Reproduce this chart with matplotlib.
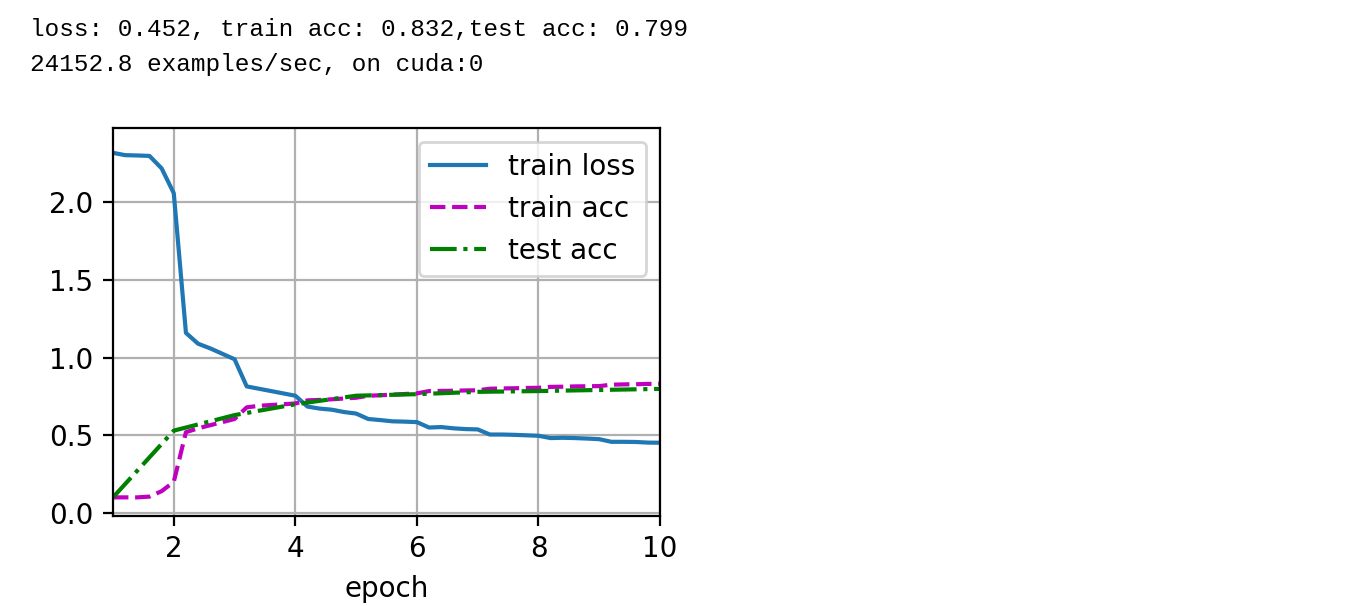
import numpy as np
import matplotlib
matplotlib.use('Agg')
import matplotlib.pyplot as plt

# x positions: 5 points per epoch (every num_batches // 5 batches)
epoch_x = [1.0, 1.2, 1.4, 1.6, 1.8, 2.0, 2.2, 2.4, 2.6, 2.8,
           3.0, 3.2, 3.4, 3.6, 3.8, 4.0, 4.2, 4.4, 4.6, 4.8,
           5.0, 5.2, 5.4, 5.6, 5.8, 6.0, 6.2, 6.4, 6.6, 6.8,
           7.0, 7.2, 7.4, 7.6, 7.8, 8.0, 8.2, 8.4, 8.6, 8.8,
           9.0, 9.2, 9.4, 9.6, 9.8, 10.0]

train_loss = [2.32, 2.305, 2.303, 2.30, 2.22, 2.06, 1.16, 1.09, 1.06, 1.025,
              0.99, 0.815, 0.80, 0.785, 0.77, 0.755, 0.685, 0.672, 0.665, 0.65,
              0.64, 0.605, 0.598, 0.59, 0.588, 0.585, 0.55, 0.553, 0.545, 0.54,
              0.538, 0.505, 0.505, 0.503, 0.50, 0.497, 0.482, 0.484, 0.482, 0.479,
              0.475, 0.458, 0.458, 0.457, 0.453, 0.452]

train_acc = [0.10, 0.10, 0.10, 0.105, 0.14, 0.20, 0.52, 0.545, 0.565, 0.585,
             0.605, 0.68, 0.69, 0.695, 0.70, 0.705, 0.725, 0.728, 0.732, 0.737,
             0.742, 0.755, 0.758, 0.762, 0.766, 0.770, 0.785, 0.786, 0.787, 0.789,
             0.790, 0.800, 0.802, 0.803, 0.805, 0.806, 0.812, 0.813, 0.815, 0.816,
             0.817, 0.826, 0.828, 0.829, 0.831, 0.832]

test_x = [1, 2, 3, 4, 5, 6, 7, 8, 9, 10]
test_acc = [0.10, 0.53, 0.63, 0.70, 0.755, 0.765, 0.78, 0.785, 0.792, 0.799]

W, H = 1363, 606
fig = plt.figure(figsize=(W / 200, H / 200), dpi=200)

# printed output above the plot
mono = ['Liberation Mono', 'DejaVu Sans Mono']
fig.text(30 / W, 1 - 30 / H, 'loss: 0.452, train acc: 0.832,test acc: 0.799',
         family=mono, fontsize=8.8, va='center', ha='left')
fig.text(30 / W, 1 - 65 / H, '24152.8 examples/sec, on cuda:0',
         family=mono, fontsize=8.8, va='center', ha='left')

ax = fig.add_axes([113 / W, 1 - 516 / H, (660 - 113) / W, (516 - 128) / H])
ax.plot(epoch_x, train_loss, '-', color='#1f77b4', label='train loss')
ax.plot(epoch_x, train_acc, 'm--', label='train acc')
ax.plot(test_x, test_acc, 'g-.', label='test acc')

ax.set_xlim(1, 10)
ax.set_ylim(-0.02, 2.48)
ax.set_xticks([2, 4, 6, 8, 10])
ax.set_yticks([0.0, 0.5, 1.0, 1.5, 2.0])
ax.set_xlabel('epoch')
ax.grid()
ax.legend(loc='upper right')

fig.savefig('out.png', dpi=200)
